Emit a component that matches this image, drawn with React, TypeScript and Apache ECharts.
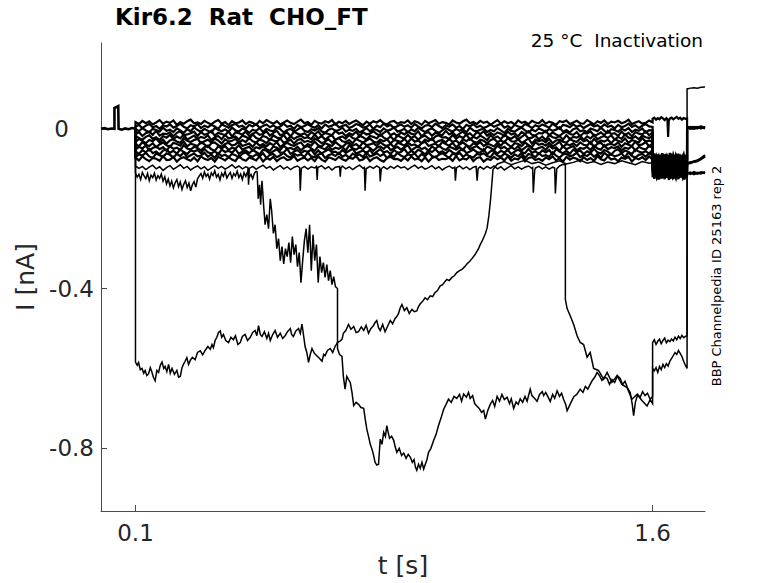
import React, { useEffect, useRef } from 'react';
import * as echarts from 'echarts';

const TITLE = 'Kir6.2  Rat  CHO_FT';
const SUBTITLE = '25 °C  Inactivation';
const SIDE_NOTE = 'BBP Channelpedia ID 25163 rep 2';
const X_NAME = 't [s]';
const Y_NAME = 'I [nA]';
const X_TICKS = [0.1, 1.6];
const Y_TICKS = [0, -0.4, -0.8];
const X_RANGE = [0, 1.752];
const Y_RANGE = [-0.957, 0.215];

// currents in pA, times in s
const PRE_T = [0, 0.01, 0.02, 0.03, 0.039, 0.039, 0.05, 0.051, 0.06, 0.07, 0.08, 0.09, 0.1];
const PRE_I = [0, 2, -1, 1, 0, 52, 57, 0, -2, 1, -1, 2, 0];

const BAND_T = [0.1,0.11,0.12,0.13,0.14,0.15,0.16,0.17,0.18,0.19,
  0.2,0.21,0.22,0.23,0.24,0.25,0.26,0.27,0.28,0.29,
  0.3,0.31,0.32,0.33,0.34,0.35,0.36,0.37,0.38,0.39,
  0.4,0.41,0.42,0.43,0.44,0.45,0.46,0.47,0.48,0.49,
  0.5,0.51,0.52,0.53,0.54,0.55,0.56,0.57,0.58,0.59,
  0.6,0.61,0.62,0.63,0.64,0.65,0.66,0.67,0.68,0.69,
  0.7,0.71,0.72,0.73,0.74,0.75,0.76,0.77,0.78,0.79,
  0.8,0.81,0.82,0.83,0.84,0.85,0.86,0.87,0.88,0.89,
  0.9,0.91,0.92,0.93,0.94,0.95,0.96,0.97,0.98,0.99,
  1.0,1.01,1.02,1.03,1.04,1.05,1.06,1.07,1.08,1.09,
  1.1,1.11,1.12,1.13,1.14,1.15,1.16,1.17,1.18,1.19,
  1.2,1.21,1.22,1.23,1.24,1.25,1.26,1.27,1.28,1.29,
  1.3,1.31,1.32,1.33,1.34,1.35,1.36,1.37,1.38,1.39,
  1.4,1.41,1.42,1.43,1.44,1.45,1.46,1.47,1.48,1.49,
  1.5,1.51,1.52,1.53,1.54,1.55,1.56,1.57,1.58,1.59,
  1.6];

const B1 = [17,12,20,14,19,11,16,22,13,18, 15,21,10,17,13,19,23,14,16,12, 20,15,11,18,22,13,17,9,19,14, 16,21,12,18,15,10,20,14,22,17, 13,19,11,16,21,15,12,18,23,14, 17,10,20,15,13,19,16,22,11,18, 14,20,12,17,21,15,9,18,13,19, 16,22,14,11,18,20,13,17,15,21, 12,19,16,10,20,14,18,22,13,17, 15,11,21,16,13,19,23,14,17,12, 20,15,18,10,16,22,13,19,14,17, 11,21,15,18,12,20,16,14,22,13, 18,15,10,19,17,21,12,16,20,14, 13,22,17,11,19,15,21,12,18,16, 20,14,17,23,12,16,19,13,15,21, 16];
const B2 = [5,10,2,8,12,4,7,0,9,6, 11,3,7,13,5,1,9,6,12,2, 8,4,10,6,0,11,7,3,9,13, 5,8,1,10,6,12,3,7,11,4, 9,2,6,13,5,8,0,10,4,7, 12,6,3,9,1,11,5,8,13,4, 7,10,2,6,12,9,3,5,11,0, 8,4,13,6,10,2,7,11,5,9, 3,12,6,1,8,10,4,13,7,2, 9,5,11,3,7,0,10,6,12,4, 8,2,6,11,5,9,13,3,7,1, 10,6,4,12,8,2,9,5,11,7, 3,13,6,0,10,8,4,11,5,9, 2,7,12,6,9,3,11,5,8,1, 10,4,7,13,5,9,2,8,12,6, 5];
const B3 = [-1,-6,2,-4,-9,0,-3,-7,3,-5, -2,-8,1,-4,-10,-1,-6,4,-3,-7, 0,-5,-9,2,-2,-6,-1,-8,3,-4, -7,1,-3,-10,-2,-5,2,-8,0,-4, -6,3,-1,-9,-3,0,-7,-2,4,-5, -8,-1,-4,2,-6,-10,-2,1,-5,-3, 3,-7,-2,-5,0,-9,-4,2,-6,-1, -3,-8,1,-5,-2,4,-7,-4,0,-9, -1,-6,3,-3,-8,-2,1,-5,-10,-4, 2,-3,-7,0,-5,-1,-9,3,-4,-6, -2,1,-8,-3,-6,2,-4,-10,0,-5, -7,-1,3,-4,-9,-2,-6,1,-3,-8, 0,-5,-2,4,-7,-3,-9,-1,2,-6, -4,-8,1,-2,-6,3,-5,-10,-1,-3, -7,0,-4,2,-8,-2,-5,1,-9,-3, -4];
const B4 = [-14,-8,-18,-11,-7,-15,-5,-17,-12,-13, -9,-19,-10,-6,-16,-14,-11,-7,-18,-8, -15,-12,-5,-17,-10,-13,-16,-6,-19,-9, -11,-14,-7,-18,-12,-8,-15,-13,-6,-17, -10,-5,-16,-13,-9,-19,-7,-12,-15,-11, -18,-8,-14,-6,-17,-10,-13,-16,-5,-12, -9,-18,-11,-15,-7,-19,-8,-14,-12,-6, -13,-17,-10,-5,-16,-11,-18,-9,-14,-7, -12,-15,-6,-19,-11,-8,-17,-10,-13,-16, -5,-14,-9,-18,-12,-7,-15,-11,-19,-8, -13,-6,-17,-10,-16,-9,-12,-18,-7,-14, -11,-19,-8,-13,-6,-15,-17,-10,-12,-5, -16,-9,-14,-18,-11,-7,-13,-15,-8,-19, -10,-12,-6,-17,-14,-9,-16,-5,-13,-11, -18,-7,-15,-10,-19,-8,-12,-14,-6,-16, -9];
const B5 = [-17,-23,-27,-20,-16,-25,-21,-28,-18,-22, -15,-26,-19,-24,-14,-27,-22,-17,-25,-20, -23,-16,-28,-21,-18,-26,-15,-24,-22,-19, -27,-17,-20,-25,-14,-23,-26,-18,-21,-28, -16,-22,-24,-15,-27,-19,-25,-20,-17,-23, -21,-26,-14,-24,-18,-27,-20,-16,-28,-22, -19,-25,-15,-23,-26,-17,-21,-27,-18,-20, -24,-14,-22,-26,-19,-28,-16,-21,-25,-15, -23,-18,-27,-20,-17,-24,-28,-19,-16,-22, -21,-26,-15,-25,-18,-23,-14,-27,-20,-24, -17,-22,-28,-16,-23,-19,-26,-15,-21,-25, -18,-27,-20,-14,-24,-22,-17,-26,-19,-28, -15,-21,-23,-18,-27,-16,-25,-20,-22,-17, -28,-19,-24,-15,-26,-21,-18,-23,-16,-27, -20,-25,-14,-22,-24,-19,-26,-17,-21,-23, -18];
const B6 = [-33,-25,-30,-36,-28,-31,-24,-34,-27,-37, -29,-26,-32,-35,-23,-30,-33,-28,-25,-36, -31,-27,-34,-24,-29,-37,-26,-32,-30,-25, -35,-28,-33,-23,-31,-34,-27,-30,-36,-26, -29,-32,-24,-35,-31,-27,-37,-28,-25,-33, -30,-34,-24,-29,-36,-32,-26,-35,-27,-23, -31,-33,-28,-36,-25,-30,-34,-29,-24,-32, -35,-27,-31,-26,-37,-28,-30,-33,-25,-34, -24,-32,-29,-36,-27,-31,-23,-35,-30,-28, -34,-25,-33,-29,-37,-26,-31,-24,-32,-35, -27,-30,-36,-28,-25,-33,-29,-34,-23,-31, -32,-26,-35,-30,-24,-37,-27,-31,-28,-34, -25,-36,-29,-27,-32,-35,-26,-30,-33,-24, -31,-28,-37,-25,-34,-29,-32,-27,-36,-26, -30,-33,-24,-35,-28,-31,-34,-23,-32,-29, -33];
const B7 = [-37,-44,-33,-40,-43,-36,-46,-39,-34,-41, -45,-35,-38,-42,-32,-44,-37,-40,-43,-33, -39,-46,-36,-34,-41,-45,-38,-35,-42,-39, -32,-43,-40,-37,-45,-34,-42,-38,-44,-36, -41,-33,-46,-39,-35,-40,-43,-37,-34,-45, -38,-42,-32,-41,-44,-36,-39,-43,-33,-40, -46,-37,-35,-42,-38,-45,-34,-41,-39,-36, -43,-33,-40,-44,-37,-46,-35,-38,-42,-34, -41,-39,-45,-36,-32,-43,-40,-37,-44,-33, -38,-42,-35,-46,-39,-34,-41,-45,-36,-40, -33,-43,-37,-40,-44,-35,-42,-32,-39,-45, -36,-38,-43,-34,-41,-46,-33,-40,-37,-42, -35,-44,-39,-32,-45,-38,-41,-36,-43,-34, -40,-42,-33,-46,-37,-35,-44,-39,-38,-41, -34,-45,-36,-40,-43,-32,-41,-39,-33,-44, -37];
const B8 = [-52,-45,-49,-42,-54,-48,-44,-51,-46,-55, -43,-50,-47,-53,-41,-49,-52,-45,-48,-54, -46,-42,-51,-55,-44,-49,-43,-53,-47,-50, -41,-52,-48,-45,-54,-46,-49,-43,-51,-55, -44,-47,-53,-42,-50,-48,-52,-45,-54,-46, -43,-49,-55,-44,-48,-51,-42,-53,-47,-50, -45,-54,-41,-49,-52,-46,-51,-43,-48,-55, -47,-44,-50,-42,-53,-49,-45,-52,-46,-41, -54,-48,-43,-51,-47,-55,-44,-50,-42,-49, -53,-45,-48,-52,-46,-54,-41,-51,-47,-43, -50,-55,-44,-48,-53,-42,-49,-45,-52,-46, -51,-43,-54,-47,-41,-50,-52,-48,-45,-53, -42,-49,-46,-55,-44,-51,-47,-43,-54,-48, -50,-45,-53,-42,-49,-52,-41,-51,-46,-48, -44,-54,-47,-50,-43,-55,-45,-49,-52,-42, -48];
const B9 = [-56,-63,-53,-59,-50,-61,-57,-64,-54,-52, -60,-55,-62,-51,-58,-63,-54,-57,-53,-61, -50,-59,-62,-56,-64,-52,-58,-55,-60,-51, -63,-57,-54,-61,-53,-58,-64,-52,-55,-62, -56,-51,-60,-59,-50,-63,-57,-53,-61,-55, -58,-52,-64,-54,-62,-56,-51,-59,-57,-63, -53,-60,-55,-50,-62,-58,-54,-61,-52,-64, -57,-51,-59,-56,-63,-53,-60,-58,-50,-62, -55,-61,-52,-57,-64,-54,-58,-51,-60,-56, -62,-53,-59,-63,-55,-50,-61,-57,-52,-58, -60,-51,-64,-56,-54,-62,-55,-59,-53,-63, -57,-52,-58,-61,-50,-60,-56,-63,-54,-59, -53,-64,-51,-57,-61,-55,-62,-52,-58,-54, -63,-56,-60,-50,-59,-62,-53,-57,-64,-55, -51,-61,-54,-58,-63,-52,-57,-60,-56,-62, -53];
const B10 = [-71,-64,-67,-60,-69,-73,-62,-66,-70,-61, -65,-72,-63,-68,-59,-71,-66,-62,-69,-67, -60,-70,-64,-73,-61,-68,-65,-71,-63,-66, -72,-62,-59,-67,-70,-64,-69,-61,-73,-65, -63,-71,-66,-60,-68,-72,-62,-67,-64,-70, -59,-69,-71,-65,-61,-73,-66,-63,-68,-60, -70,-65,-72,-62,-67,-64,-71,-59,-69,-66, -61,-68,-63,-73,-65,-70,-60,-67,-71,-64, -66,-62,-72,-63,-69,-59,-68,-71,-65,-61, -67,-73,-62,-66,-60,-70,-64,-69,-72,-63, -65,-61,-68,-71,-59,-67,-70,-62,-66,-72, -64,-69,-60,-73,-63,-65,-71,-61,-68,-66, -70,-59,-67,-72,-64,-62,-69,-66,-60,-71, -65,-68,-61,-70,-63,-73,-60,-67,-64,-69, -66,-62,-71,-59,-68,-72,-65,-63,-70,-61, -67];
const B11 = [-72,-79,-69,-76,-81,-73,-75,-80,-68,-78, -77,-70,-82,-74,-71,-76,-80,-72,-81,-69, -75,-78,-73,-82,-70,-74,-79,-71,-77,-81, -68,-76,-80,-72,-75,-79,-69,-82,-73,-77, -70,-81,-74,-71,-78,-76,-68,-80,-75,-72, -79,-73,-81,-69,-77,-82,-71,-74,-78,-70, -76,-80,-72,-75,-68,-79,-77,-69,-81,-74, -71,-78,-82,-73,-70,-76,-75,-80,-72,-79, -69,-77,-74,-81,-71,-82,-73,-70,-78,-75, -76,-72,-80,-68,-79,-74,-77,-69,-81,-73, -71,-82,-75,-78,-70,-76,-72,-79,-69,-80, -74,-77,-68,-81,-73,-71,-78,-75,-80,-72, -76,-69,-79,-74,-82,-70,-77,-72,-75,-81, -71,-78,-73,-80,-68,-76,-79,-69,-77,-74, -81,-72,-75,-70,-82,-73,-76,-71,-78,-69, -77];

const TEST_T = [1.6,1.6025,1.605,1.6075,1.61,1.6125,1.615,1.6175,1.62,1.6225,
  1.625,1.6275,1.63,1.6325,1.635,1.6375,1.64,1.6425,1.645,1.6475,
  1.65,1.6525,1.655,1.6575,1.66,1.6625,1.665,1.6675,1.67,1.6725,
  1.675,1.6775,1.68,1.6825,1.685,1.6875,1.69,1.6925,1.695,1.6975,
  1.7];
const TEST_T_COARSE = [1.6,1.605,1.61,1.615,1.62,1.625,1.63,1.635,1.64,1.645,1.65,1.655,1.66,1.665,1.67,1.675,1.68,1.685,1.69,1.695,1.7];
const T1_TEST_T = [1.6,1.605,1.61,1.615,1.62,1.625,1.63,1.635,1.64,1.643,1.645,1.647,1.65,1.655,1.66,1.665,1.67,1.675,1.68,1.685,1.69,1.695,1.7];
const T1 = [25,28,23,27,24,29,26,22,27,24,-20,20,26,28,24,27,30,25,28,23,27,25,26];
const T2 = [-66,-75,-62,-71,-78,-64,-73,-68,-80,-65, -72,-61,-77,-69,-74,-63,-79,-67,-71,-76, -60,-73,-68,-75,-64,-70,-78,-66,-72,-62, -77,-69,-74,-65,-79,-68,-63,-75,-71,-67, -70];
const T3 = [-80,-71,-84,-74,-68,-79,-73,-85,-70,-77, -82,-72,-76,-86,-69,-78,-74,-81,-67,-75, -83,-71,-79,-73,-86,-70,-77,-80,-68,-84, -74,-78,-72,-85,-69,-76,-81,-73,-79,-71, -76];
const T4 = [-78,-87,-74,-83,-90,-79,-85,-76,-91,-80, -84,-73,-88,-81,-77,-86,-92,-78,-83,-75, -89,-80,-85,-72,-87,-82,-79,-91,-76,-84, -88,-74,-81,-86,-78,-90,-83,-77,-85,-80, -82];
const T5 = [-85,-93,-81,-90,-96,-84,-88,-98,-82,-91, -87,-95,-80,-89,-94,-83,-97,-86,-92,-79, -90,-96,-84,-88,-81,-93,-98,-85,-91,-83, -95,-87,-82,-94,-89,-97,-80,-92,-86,-90, -88];
const T6 = [-98,-89,-96,-103,-91,-95,-86,-100,-93,-104, -88,-97,-92,-101,-85,-94,-99,-90,-102,-87, -96,-93,-104,-89,-98,-91,-100,-86,-95,-103, -90,-97,-88,-101,-94,-99,-85,-96,-92,-102, -94];
const T7 = [-97,-106,-94,-101,-108,-92,-103,-99,-110,-95, -102,-91,-105,-98,-109,-96,-100,-93,-107,-104, -94,-99,-110,-97,-103,-92,-106,-101,-95,-108, -98,-104,-91,-100,-107,-96,-102,-93,-105,-99, -100];
const T8 = [-103,-112,-100,-108,-115,-104,-110,-98,-113,-106, -101,-116,-105,-109,-99,-114,-102,-107,-111,-97, -108,-113,-103,-116,-100,-106,-110,-104,-98,-112, -107,-101,-115,-105,-109,-99,-113,-103,-111,-104, -106];
const T9 = [-109,-117,-106,-114,-121,-108,-112,-104,-119,-111, -116,-105,-120,-110,-113,-107,-122,-115,-103,-118, -111,-106,-114,-120,-108,-116,-104,-113,-119,-109, -115,-107,-121,-110,-105,-117,-112,-118,-106,-114, -112];
const T10 = [-121,-113,-125,-116,-110,-123,-118,-127,-112,-120, -115,-124,-109,-119,-126,-114,-122,-111,-117,-128, -113,-120,-116,-125,-110,-121,-118,-124,-112,-119, -126,-114,-122,-109,-117,-123,-115,-127,-111,-120, -118];
const T11 = [-71,-80,-68,-77,-83,-72,-78,-66,-81,-74, -69,-79,-75,-84,-70,-76,-82,-67,-73,-80, -77,-65,-79,-72,-85,-74,-70,-81,-76,-68, -78,-83,-71,-75,-66,-80,-73,-79,-69,-77, -74];
const TB = [-96,-87,-100,-90,-84,-95,-89,-102,-86,-93, -98,-88,-92,-101,-85,-94,-90,-97,-83,-91, -99,-87,-95,-89,-102,-86,-93,-96,-84,-100, -90,-94,-88,-101,-85,-92,-97,-89,-95,-87, -92];
const TA = [-600,-606,-598,-610,-595,-603,-590,-598,-588,-594,-582,-575,-568,-560,-565,-555,-562,-570,-582,-592,-600];
const TC = [-535,-528,-540,-532,-527,-538,-530,-524,-536,-529,-533,-526,-531,-522,-528,-519,-525,-517,-523,-520,-518];

const POST_T = [1.7, 1.71, 1.72, 1.73, 1.74, 1.752];
const P1 = [3,1,4,2,5,3];
const P2 = [4,0,3,5,2,4];
const P3 = [1,3,5,2,4,1];
const P4 = [5,2,0,3,6,3];
const P5 = [2,4,3,1,5,2];
const P6 = [3,5,2,4,1,4];
const P7 = [-87,-84,-82,-79,-74,-66];
const P8 = [-85,-86,-81,-80,-76,-68];
const P9 = [-88,-84,-83,-81,-75,-70];
const P10 = [-110,-113,-108,-112,-109,-111];
const P11 = [-112,-109,-114,-110,-112,-108];
const PB = [-109,-111,-110,-113,-108,-110];
const PC = [2,5,1,4,3,2];
const PA = [100,102,103,102,104,105];

// [t, pA]
const A_MAIN = [[0.1,-110],[0.105,-121],[0.11,-114],[0.115,-127],[0.12,-109],[0.125,-118],[0.13,-125],[0.135,-112],[0.14,-130],[0.145,-116],
  [0.15,-122],[0.155,-111],[0.16,-128],[0.165,-117],[0.17,-124],[0.175,-113],[0.18,-131],[0.185,-120],[0.19,-138],[0.195,-126],
  [0.2,-143],[0.205,-131],[0.21,-148],[0.215,-135],[0.22,-127],[0.225,-145],[0.23,-133],[0.235,-152],[0.24,-139],[0.245,-130],
  [0.25,-147],[0.255,-136],[0.26,-155],[0.265,-140],[0.27,-132],[0.275,-146],[0.28,-125],[0.285,-118],[0.29,-112],[0.295,-124],
  [0.3,-108],[0.305,-119],[0.31,-113],[0.315,-126],[0.32,-110],[0.325,-117],[0.33,-105],[0.335,-121],[0.34,-114],[0.345,-128],
  [0.35,-111],[0.355,-119],[0.36,-107],[0.365,-123],[0.37,-115],[0.375,-109],[0.38,-124],[0.385,-112],[0.39,-118],[0.395,-106],
  [0.4,-122],[0.405,-113],[0.41,-127],[0.415,-110],[0.42,-119],[0.425,-108],[0.43,-121],[0.435,-114],[0.44,-125],[0.445,-111],
  [0.45,-106],[0.453,-108],[0.456,-175],[0.46,-140],[0.463,-190],[0.467,-130],[0.472,-195],[0.476,-240],[0.481,-215],[0.486,-250],[0.491,-175],[0.495,-205],[0.5,-262],[0.505,-240],[0.51,-300],[0.515,-275],[0.52,-330],[0.525,-295],[0.53,-338],[0.535,-300],[0.54,-320],[0.545,-285],[0.55,-335],[0.555,-270],[0.56,-315],[0.565,-290],[0.57,-345],[0.575,-310],[0.58,-385],[0.585,-330],[0.59,-280],[0.595,-250],[0.6,-310],[0.605,-240],[0.61,-355],[0.615,-265],[0.62,-330],[0.625,-290],[0.63,-385],[0.635,-320],[0.64,-360],[0.645,-335],[0.65,-372],[0.655,-340],[0.66,-380],[0.665,-355],[0.67,-390],[0.675,-370],[0.68,-395],[0.686,-400],
  [0.686,-550],[0.692,-565],[0.699,-570],[0.703,-620],[0.708,-652],[0.713,-620],[0.718,-628],[0.723,-635],[0.728,-660],[0.733,-693],[0.74,-685],[0.747,-690],[0.754,-698],[0.762,-700],[0.767,-730],[0.771,-752],[0.776,-770],[0.781,-790],[0.786,-802],[0.79,-815],[0.795,-835],[0.8,-842],[0.805,-840],[0.81,-777],[0.815,-790],[0.82,-760],[0.825,-770],[0.829,-743],[0.833,-760],[0.837,-775],[0.843,-770],[0.849,-780],[0.853,-795],[0.858,-810],[0.865,-800],[0.872,-818],[0.878,-812],[0.885,-825],[0.891,-815],[0.897,-822],[0.903,-835],[0.908,-828],[0.912,-847],[0.916,-855],[0.921,-840],[0.926,-850],[0.931,-835],[0.936,-852],[0.94,-842],[0.945,-830],[0.95,-810],[0.957,-800],[0.965,-780],[0.972,-765],[0.979,-743],[0.986,-725],[0.994,-702],[1.001,-690],[1.008,-677],[1.016,-685],[1.024,-670],[1.032,-675],[1.04,-665],[1.046,-682],[1.052,-664],[1.06,-672],[1.066,-660],[1.071,-675],[1.078,-668],[1.084,-688],[1.09,-694],[1.097,-700],[1.104,-710],[1.11,-705],[1.115,-727],[1.122,-705],[1.129,-690],[1.136,-680],[1.142,-695],[1.149,-670],[1.156,-682],[1.163,-665],[1.17,-678],[1.178,-672],[1.185,-688],[1.19,-676],[1.197,-700],[1.204,-684],[1.21,-690],[1.216,-676],[1.223,-685],[1.23,-670],[1.236,-682],[1.245,-652],[1.25,-668],[1.258,-675],[1.265,-682],[1.272,-665],[1.28,-658],[1.284,-668],[1.29,-660],[1.297,-672],[1.303,-683],[1.31,-665],[1.316,-675],[1.323,-656],[1.33,-670],[1.336,-662],[1.342,-678],[1.348,-690],[1.352,-706],[1.358,-695],[1.365,-682],[1.372,-670],[1.38,-665],[1.39,-652],[1.398,-660],[1.405,-645],[1.412,-652],[1.419,-640],[1.425,-630],[1.432,-622],[1.439,-610],[1.446,-618],[1.453,-630],[1.46,-622],[1.468,-625],[1.475,-640],[1.482,-628],[1.49,-635],[1.498,-618],[1.506,-625],[1.513,-640],[1.52,-632],[1.528,-650],[1.535,-660],[1.541,-690],[1.545,-718],[1.55,-685],[1.557,-665],[1.564,-672],[1.571,-658],[1.578,-668],[1.585,-662],[1.593,-677],[1.6,-670]];

const B_MAIN = [[0.1,-584],[0.105,-592],[0.109,-585],[0.114,-603],[0.119,-600],[0.124,-612],[0.128,-605],[0.133,-618],[0.138,-613],[0.143,-598],[0.148,-610],[0.152,-622],[0.157,-631],[0.162,-605],[0.167,-610],[0.172,-592],[0.177,-584],[0.182,-600],[0.186,-595],[0.191,-608],[0.196,-590],[0.201,-612],[0.206,-600],[0.213,-615],[0.22,-605],[0.225,-622],[0.23,-620],[0.235,-598],[0.239,-590],[0.244,-582],[0.249,-573],[0.254,-590],[0.259,-580],[0.265,-572],[0.273,-578],[0.28,-560],[0.288,-556],[0.295,-566],[0.302,-555],[0.31,-545],[0.317,-552],[0.322,-540],[0.326,-548],[0.331,-530],[0.336,-522],[0.341,-510],[0.346,-506],[0.35,-522],[0.355,-515],[0.362,-530],[0.37,-535],[0.377,-522],[0.384,-528],[0.39,-518],[0.397,-540],[0.404,-535],[0.41,-520],[0.418,-515],[0.425,-530],[0.433,-522],[0.44,-510],[0.447,-505],[0.452,-518],[0.457,-493],[0.462,-515],[0.467,-520],[0.474,-508],[0.481,-525],[0.486,-512],[0.491,-530],[0.498,-515],[0.505,-505],[0.512,-522],[0.52,-512],[0.527,-525],[0.534,-518],[0.541,-508],[0.549,-500],[0.553,-515],[0.558,-520],[0.565,-506],[0.573,-500],[0.578,-512],[0.583,-489],[0.588,-520],[0.592,-545],[0.597,-560],[0.602,-585],[0.607,-565],[0.612,-550],[0.619,-562],[0.626,-568],[0.634,-575],[0.641,-582],[0.646,-565],[0.65,-568],[0.657,-555],[0.665,-550],[0.672,-560],[0.679,-545],[0.686,-535],[0.694,-531],[0.699,-527],[0.703,-512],[0.71,-505],[0.718,-490],[0.725,-502],[0.733,-495],[0.74,-510],[0.747,-508],[0.755,-496],[0.762,-505],[0.769,-492],[0.776,-512],[0.783,-500],[0.79,-493],[0.795,-485],[0.8,-480],[0.805,-498],[0.81,-505],[0.817,-490],[0.824,-508],[0.831,-495],[0.839,-480],[0.846,-488],[0.853,-475],[0.858,-470],[0.863,-462],[0.868,-448],[0.873,-440],[0.88,-455],[0.887,-448],[0.894,-462],[0.902,-452],[0.909,-458],[0.916,-456],[0.921,-445],[0.926,-438],[0.933,-432],[0.94,-423],[0.947,-428],[0.955,-418],[0.962,-420],[0.969,-410],[0.976,-405],[0.984,-393],[0.991,-390],[0.998,-382],[1.003,-377],[1.01,-380],[1.018,-372],[1.025,-368],[1.032,-360],[1.04,-355],[1.047,-352],[1.055,-345],[1.062,-338],[1.069,-332],[1.076,-325],[1.084,-316],[1.091,-306],[1.096,-298],[1.1,-290],[1.105,-282],[1.11,-272],[1.115,-262],[1.12,-248],[1.125,-218],[1.13,-177],[1.134,-135],[1.137,-102],[1.15,-88],[1.17,-82],[1.19,-90],[1.21,-84],[1.23,-79],[1.25,-87],[1.27,-83],[1.29,-91],[1.31,-85],[1.33,-80],[1.35,-88],[1.37,-84],[1.39,-78],[1.41,-86],[1.43,-82],[1.45,-89],[1.47,-83],[1.49,-87],[1.51,-80],[1.53,-85],[1.55,-90],[1.57,-82],[1.59,-86],[1.6,-84]];

const C_MAIN = [[0.1,-93],[0.11,-99],[0.12,-94],[0.13,-102],[0.14,-96],[0.15,-91],[0.16,-100],[0.17,-95],[0.18,-104],[0.19,-97],
  [0.2,-92],[0.21,-101],[0.22,-96],[0.23,-90],[0.24,-99],[0.25,-94],[0.26,-103],[0.27,-97],[0.28,-93],[0.29,-100],
  [0.3,-95],[0.31,-104],[0.32,-98],[0.33,-92],[0.34,-99],[0.35,-94],[0.36,-101],[0.37,-96],[0.38,-90],[0.39,-98],
  [0.4,-93],[0.41,-100],[0.42,-95],[0.426,-97],[0.428,-140],[0.43,-99],[0.44,-94],[0.45,-101],[0.46,-96],[0.47,-91],
  [0.48,-99],[0.49,-94],[0.5,-103],[0.51,-97],[0.52,-92],[0.53,-100],[0.54,-95],[0.55,-102],[0.56,-96],[0.57,-93],
  [0.576,-97],[0.578,-155],[0.581,-99],[0.59,-94],[0.6,-101],[0.61,-95],[0.62,-98],[0.625,-94],[0.627,-128],[0.629,-97],
  [0.64,-92],[0.65,-100],[0.66,-95],[0.67,-103],[0.68,-96],[0.692,-94],[0.694,-120],[0.696,-98],[0.7,-93],[0.71,-100],
  [0.72,-95],[0.73,-102],[0.74,-96],[0.75,-91],[0.76,-99],[0.764,-97],[0.766,-155],[0.769,-100],[0.78,-94],[0.79,-99],
  [0.8,-93],[0.808,-97],[0.81,-132],[0.813,-100],[0.82,-95],[0.83,-101],[0.84,-94],[0.85,-99],[0.86,-92],[0.87,-98],
  [0.88,-95],[0.89,-102],[0.9,-96],[0.91,-91],[0.92,-99],[0.93,-94],[0.94,-101],[0.95,-97],[0.96,-92],[0.97,-100],
  [0.98,-95],[0.99,-103],[1.0,-97],[1.01,-93],[1.02,-99],[1.026,-96],[1.028,-130],[1.031,-98],[1.04,-93],[1.05,-100],
  [1.06,-95],[1.07,-102],[1.08,-96],[1.088,-94],[1.091,-130],[1.094,-99],[1.1,-95],[1.11,-101],[1.12,-94],[1.13,-99],
  [1.14,-93],[1.15,-100],[1.16,-95],[1.17,-103],[1.18,-97],[1.19,-92],[1.2,-100],[1.21,-95],[1.22,-101],[1.23,-96],
  [1.24,-93],[1.25,-99],[1.252,-97],[1.254,-160],[1.258,-104],[1.26,-98],[1.27,-94],[1.28,-100],[1.29,-95],[1.3,-101],
  [1.31,-96],[1.316,-98],[1.318,-162],[1.322,-100],[1.33,-93],[1.34,-89],[1.347,-90],
  [1.347,-427],[1.352,-450],[1.361,-468],[1.371,-490],[1.381,-518],[1.39,-535],[1.4,-540],[1.41,-572],[1.419,-560],[1.429,-600],[1.443,-605],[1.458,-627],[1.468,-610],[1.482,-635],[1.497,-618],[1.511,-640],[1.526,-648],[1.54,-677],[1.555,-665],[1.569,-680],[1.584,-694],[1.593,-678],[1.6,-688]];

const FONT = 'DejaVu Sans';
const INK = '#000000';
const AXIS = '#4a4a4a';
const TEXT = '#262626';

const pairs = (ts: number[], vs: number[]) => ts.slice(0, Math.min(ts.length, vs.length)).map((t, i) => [t, vs[i] / 1000]);
const pairList = (list: number[][]) => list.map(([t, v]) => [t, v / 1000]);

function buildTrace(main: number[][], test: number[][], post: number[][]) {
  return [[0.1, 0], ...main, ...test, ...post];
}

function lineSeries(data: number[][], width: number) {
  return {
    type: 'line',
    data,
    showSymbol: false,
    symbol: 'none',
    silent: true,
    lineStyle: { color: INK, width, join: 'miter' },
    emphasis: { disabled: true },
    z: 3,
  };
}

export default function App() {
  const ref = useRef<HTMLDivElement>(null);
  useEffect(() => {
    if (!ref.current) return;
    const chart = echarts.init(ref.current, null, { renderer: 'svg' });

    const bandMain = [B1, B2, B3, B4, B5, B6, B7, B8, B9, B10, B11];
    const bandTest = [T2, T3, T4, T5, T6, T7, T8, T9, T10, T11];
    const bandPost = [P1, P2, P3, P4, P5, P6, P7, P8, P9, P10, P11];

    const series: any[] = [];
    series.push(lineSeries(pairs(PRE_T, PRE_I), 2.6));
    bandMain.forEach((vals, i) => {
      const test = i === 0 ? pairs(T1_TEST_T, T1) : pairs(TEST_T, bandTest[i - 1]);
      series.push(lineSeries(buildTrace(pairs(BAND_T, vals), test, pairs(POST_T, bandPost[i])), 2.2));
    });
    series.push(lineSeries(buildTrace(pairList(C_MAIN), pairs(TEST_T_COARSE, TC), pairs(POST_T, PC)), 1.5));
    series.push(lineSeries(buildTrace(pairList(A_MAIN), pairs(TEST_T_COARSE, TA), pairs(POST_T, PA)), 1.5));
    series.push(lineSeries(buildTrace(pairList(B_MAIN), pairs(TEST_T, TB), pairs(POST_T, PB)), 1.5));

    const option: any = {
      animation: false,
      title: {
        text: TITLE,
        left: 115,
        top: 5,
        padding: 0,
        textStyle: { fontFamily: FONT, fontSize: 23, fontWeight: 'bold', color: INK },
      },
      grid: { left: 101, top: 43, right: 73, bottom: 71 },
      xAxis: {
        type: 'value',
        min: X_RANGE[0],
        max: X_RANGE[1],
        name: X_NAME,
        nameLocation: 'middle',
        nameGap: 42,
        nameTextStyle: { fontFamily: FONT, fontSize: 25, color: TEXT },
        axisLine: { show: true, onZero: false, lineStyle: { color: AXIS, width: 1 } },
        axisTick: { show: true, inside: true, length: 6, customValues: X_TICKS, lineStyle: { color: AXIS, width: 1 } },
        axisLabel: {
          customValues: X_TICKS,
          fontFamily: FONT,
          fontSize: 23,
          color: TEXT,
          margin: 10,
          formatter: (v: number) => String(v),
        },
        splitLine: { show: false },
      },
      yAxis: {
        type: 'value',
        min: Y_RANGE[0],
        max: Y_RANGE[1],
        name: Y_NAME,
        nameLocation: 'middle',
        nameGap: 55,
        nameTextStyle: { fontFamily: FONT, fontSize: 25, color: TEXT },
        axisLine: { show: true, onZero: false, lineStyle: { color: AXIS, width: 1 } },
        axisTick: { show: true, inside: true, length: 6, customValues: Y_TICKS, lineStyle: { color: AXIS, width: 1 } },
        axisLabel: {
          customValues: Y_TICKS,
          fontFamily: FONT,
          fontSize: 23,
          color: TEXT,
          margin: 7,
          formatter: (v: number) => (v === 0 ? '{z|0}' : String(v)),
          rich: { z: { fontFamily: FONT, fontSize: 23, color: TEXT, padding: [0, 25, 0, 0] } },
        },
        splitLine: { show: false },
      },
      graphic: [
        {
          type: 'text',
          x: 703,
          y: 40,
          silent: true,
          style: {
            text: SUBTITLE,
            fill: INK,
            font: `18.5px "${FONT}"`,
            align: 'right',
            verticalAlign: 'middle',
            textAlign: 'right',
            textVerticalAlign: 'middle',
          },
        },
        {
          type: 'text',
          x: 716,
          y: 276,
          rotation: Math.PI / 2,
          silent: true,
          style: {
            text: SIDE_NOTE,
            fill: INK,
            font: `13px "${FONT}"`,
            align: 'center',
            verticalAlign: 'middle',
            textAlign: 'center',
            textVerticalAlign: 'middle',
          },
        },
      ],
      series,
    };
    chart.setOption(option);
    return () => chart.dispose();
  }, []);

  return <div ref={ref} style={{ position: 'fixed', left: 0, top: 0, width: 778, height: 583, background: '#fff' }} />;
}
